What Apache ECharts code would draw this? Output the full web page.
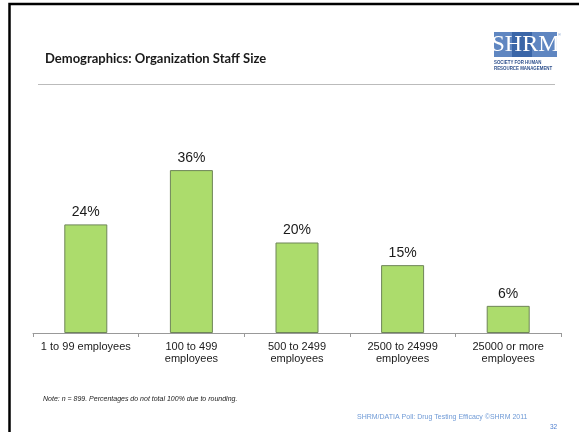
<!DOCTYPE html>
<html>
<head>
<meta charset="utf-8">
<script src="https://cdn.jsdelivr.net/npm/echarts@6/dist/echarts.min.js"></script>
<style>
html,body{margin:0;padding:0;background:#fff;}
#chart{width:579px;height:432px;}
</style>
</head>
<body>
<div id="chart"></div>
<script>
var categories = ['1 to 99 employees', '100 to 499\nemployees', '500 to 2499\nemployees', '2500 to 24999\nemployees', '25000 or more\nemployees'];
var values = [24, 36, 20, 15, 6];
var titleText = 'Demographics: Organization Staff Size';
var noteText = 'Note: n = 899. Percentages do not total 100% due to rounding.';
var footerText = 'SHRM/DATIA Poll: Drug Testing Efficacy \u00A9SHRM 2011';
var pageNumber = '32';

var chart = echarts.init(document.getElementById('chart'), null, {renderer: 'canvas'});
var option = {
  backgroundColor: '#ffffff',
  animation: false,
  title: {
    text: titleText,
    left: 45,
    top: 52,
    padding: 0,
    textStyle: {fontFamily: 'Lato', fontWeight: 'bold', fontSize: 13, color: '#1a1a1a'}
  },
  grid: {left: 33, right: 18, top: 152, bottom: 99},
  xAxis: {
    type: 'category',
    data: categories,
    axisLine: {lineStyle: {color: '#999999', width: 1}},
    axisTick: {show: true, length: 4, lineStyle: {color: '#999999'}},
    axisLabel: {
      fontFamily: 'Liberation Sans, Arial, sans-serif',
      fontSize: 11,
      lineHeight: 12,
      color: '#1a1a1a',
      margin: 8,
      interval: 0
    }
  },
  yAxis: {
    type: 'value',
    min: 0,
    max: 40,
    show: false,
    splitLine: {show: false}
  },
  series: [{
    type: 'bar',
    data: values,
    barWidth: 43,
    itemStyle: {color: '#acdc6c', borderColor: '#6e8558', borderWidth: 1},
    label: {
      show: true,
      position: 'top',
      distance: 5,
      formatter: '{c}%',
      fontFamily: 'Liberation Sans, Arial, sans-serif',
      fontSize: 14,
      color: '#1a1a1a'
    }
  }],
  graphic: [
    {type: 'rect', shape: {x: 9.5, y: 4, width: 800, height: 800}, style: {fill: null, stroke: '#000000', lineWidth: 2.5}, silent: true},
    {type: 'line', shape: {x1: 38, y1: 84.5, x2: 555, y2: 84.5}, style: {stroke: '#bbbbbb', lineWidth: 1.2}},
    {type: 'rect', shape: {x: 494, y: 32, width: 63, height: 25}, style: {fill: '#5f86c1'}},
    {type: 'rect', shape: {x: 512, y: 32, width: 20, height: 25}, style: {fill: '#3a66a8'}},
    {type: 'text', style: {x: 525.5, y: 45, text: 'SHRM', textAlign: 'center', textVerticalAlign: 'middle', fontFamily: 'Liberation Serif, serif', fontSize: 24, fill: '#ffffff'}},
    {type: 'text', style: {x: 558, y: 33, text: '\u00AE', fontFamily: 'Liberation Sans', fontSize: 4, fill: '#5f86c1'}},
    {type: 'text', x: 494, y: 62, scaleX: 0.8, style: {x: 0, y: 0, text: 'SOCIETY FOR HUMAN', textVerticalAlign: 'middle', fontFamily: 'Liberation Sans', fontWeight: 'bold', fontSize: 5.5, fill: '#2d4f8c'}},
    {type: 'text', x: 494, y: 68, scaleX: 0.8, style: {x: 0, y: 0, text: 'RESOURCE MANAGEMENT', textVerticalAlign: 'middle', fontFamily: 'Liberation Sans', fontWeight: 'bold', fontSize: 5.5, fill: '#2d4f8c'}},
    {type: 'text', style: {x: 43, y: 399, text: noteText, textVerticalAlign: 'middle', fontFamily: 'Liberation Sans, Arial', fontStyle: 'italic', fontSize: 7, fill: '#222222'}},
    {type: 'text', style: {x: 357, y: 417, text: footerText, textVerticalAlign: 'middle', fontFamily: 'Liberation Sans, Arial', fontSize: 7, fill: '#6f9ad6'}},
    {type: 'text', style: {x: 550, y: 427, text: pageNumber, textVerticalAlign: 'middle', fontFamily: 'Liberation Sans, Arial', fontSize: 6.5, fill: '#4f7fcf'}}
  ]
};
chart.setOption(option);
</script>
</body>
</html>
